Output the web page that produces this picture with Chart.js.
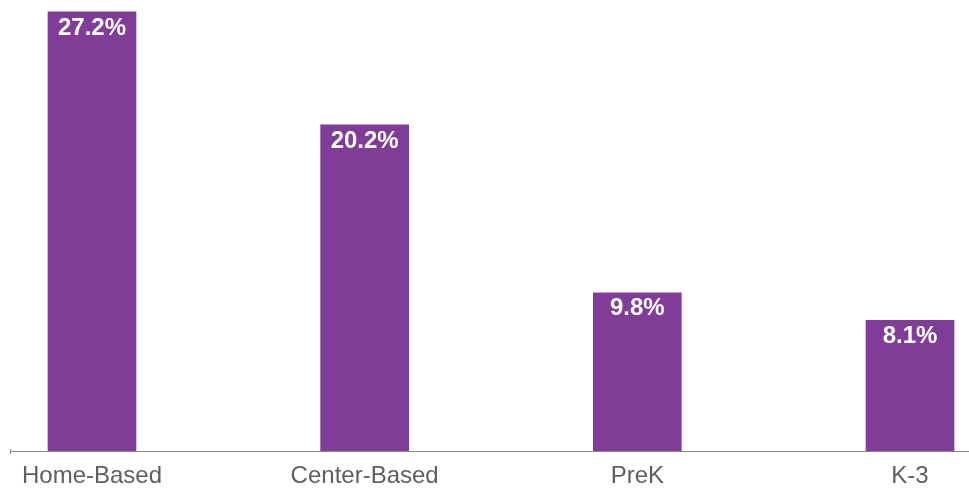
<!DOCTYPE html>
<html>
<head>
<meta charset="utf-8">
<script src="https://cdn.jsdelivr.net/npm/chart.js@4"></script>
<style>
  html, body { margin: 0; padding: 0; background: #fff; }
  #wrap { width: 969px; height: 489px; }
</style>
</head>
<body>
<div id="wrap"><canvas id="barChart"></canvas></div>
<script>
const categories = ['Home-Based', 'Center-Based', 'PreK', 'K-3'];
const values = [27.2, 20.2, 9.8, 8.1];
const valueLabels = ['27.2%', '20.2%', '9.8%', '8.1%'];

const barColor = '#7f3d97';
const fontFamily = '"Helvetica Neue", Helvetica, Arial, "Liberation Sans", sans-serif';

// white value labels inside the top of each bar
const valueLabelPlugin = {
    id: 'valueLabels',
    afterDatasetsDraw(chart) {
        const ctx = chart.ctx;
        const meta = chart.getDatasetMeta(0);
        ctx.save();
        ctx.fillStyle = '#ffffff';
        ctx.font = 'bold 24px ' + fontFamily;
        ctx.textAlign = 'center';
        ctx.textBaseline = 'middle';
        meta.data.forEach((bar, i) => {
            ctx.fillText(valueLabels[i], bar.x, bar.y + 16);
        });
        // little end tick at the left of the axis
        const xs = chart.scales.x;
        ctx.strokeStyle = '#888';
        ctx.lineWidth = 1;
        ctx.beginPath();
        ctx.moveTo(xs.left + 0.5, xs.top - 2);
        ctx.lineTo(xs.left + 0.5, xs.top + 3);
        ctx.stroke();
        ctx.restore();
    }
};

new Chart(document.getElementById('barChart').getContext('2d'), {
    type: 'bar',
    data: {
        datasets: [{
            data: values.map((v, i) => ({ x: i, y: v })),
            backgroundColor: barColor,
            barThickness: 88,
            borderWidth: 0
        }]
    },
    options: {
        responsive: true,
        maintainAspectRatio: false,
        animation: false,
        layout: { padding: { left: 10, right: 0, top: 0, bottom: 0 } },
        plugins: {
            legend: { display: false },
            tooltip: { enabled: false }
        },
        scales: {
            x: {
                type: 'linear',
                offset: false,
                min: -0.3007,
                max: 3.2164,
                afterBuildTicks: (scale) => {
                    scale.ticks = categories.map((c, i) => ({ value: i }));
                },
                afterFit: (scale) => { scale.height = 38; },
                grid: { display: true, drawOnChartArea: false, drawTicks: false },
                border: { display: true, color: '#888888', width: 1 },
                ticks: {
                    autoSkip: false,
                    maxRotation: 0,
                    padding: 11,
                    color: '#5f5f5f',
                    font: { family: fontFamily, size: 24 },
                    callback: (v) => categories[v]
                }
            },
            y: {
                display: false,
                min: 0,
                max: 27.94
            }
        }
    },
    plugins: [valueLabelPlugin]
});
</script>
</body>
</html>
